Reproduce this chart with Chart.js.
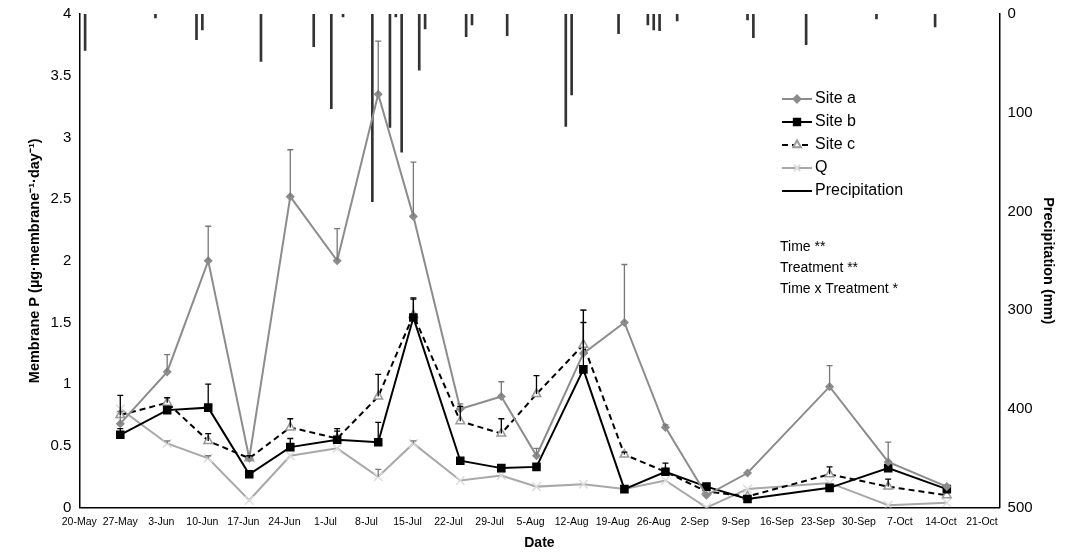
<!DOCTYPE html>
<html>
<head>
<meta charset="utf-8">
<script src="https://cdn.jsdelivr.net/npm/chart.js@4"></script>
<style>
  body { margin: 0; background: #fff; }
  #wrap { width: 1076px; height: 556px; }
</style>
</head>
<body>
<div id="wrap"><canvas id="chart"></canvas></div>
<script>
// days after 20-May
const sampleDays = [7, 15, 22, 29, 36, 44, 51, 57, 65, 72, 78, 86, 93, 100, 107, 114, 128, 138, 148];
const siteA = [0.68, 1.1, 2.0, 0.4, 2.52, 2.0, 3.35, 2.36, 0.8, 0.9, 0.42, 1.25, 1.5, 0.65, 0.1, 0.28, 0.98, 0.37, 0.17];
const siteAErr = [0.1, 0.14, 0.28, 0, 0.38, 0.26, 0.43, 0.44, 0.04, 0.12, 0.06, 0.35, 0.47, 0.02, 0, 0, 0.17, 0.16, 0];
const siteB = [0.59, 0.79, 0.81, 0.27, 0.49, 0.55, 0.53, 1.54, 0.38, 0.32, 0.33, 1.12, 0.15, 0.29, 0.17, 0.07, 0.16, 0.32, 0.15];
const siteBErr = [0.05, 0.03, 0.19, 0.02, 0.07, 0.07, 0.16, 0.15, 0, 0.02, 0, 0.38, 0, 0.07, 0, 0, 0, 0, 0];
const siteC = [0.75, 0.85, 0.54, 0.4, 0.65, 0.56, 0.9, 1.56, 0.7, 0.6, 0.92, 1.32, 0.43, 0.29, 0.13, 0.09, 0.27, 0.17, 0.1];
const siteCErr = [0.16, 0.04, 0.06, 0.02, 0.07, 0.08, 0.18, 0.14, 0.12, 0.12, 0.15, 0.28, 0.02, 0.02, 0, 0, 0.06, 0.06, 0];
const q = [0.8, 0.52, 0.4, 0.06, 0.42, 0.48, 0.25, 0.52, 0.22, 0.26, 0.17, 0.19, 0.15, 0.22, 0.0, 0.15, 0.2, 0.02, 0.04];
const qErr = [0, 0.02, 0.02, 0, 0, 0, 0.06, 0.02, 0, 0, 0, 0, 0, 0, 0, 0, 0, 0, 0];
const precipDays = [1, 13, 20, 21, 31, 40, 43, 45, 50, 53, 54, 55, 58, 59, 66, 67, 73, 83, 84, 92, 97, 98, 99, 102, 114, 115, 124, 136, 146];
const precipMm = [37, 4, 26, 16, 48, 33, 96, 3, 190, 115, 3, 140, 57, 15, 23, 11, 22, 114, 82, 20, 11, 16, 17, 7, 6, 24, 31, 5, 13];
const statsText = ['Time **', 'Treatment **', 'Time x Treatment *'];

const months = ['Jan','Feb','Mar','Apr','May','Jun','Jul','Aug','Sep','Oct','Nov','Dec'];
function dayLabel(d) {
  const dt = new Date(Date.UTC(2013, 4, 20 + d));
  return dt.getUTCDate() + '-' + months[dt.getUTCMonth()];
}
const pts = vals => vals.map((v, i) => ({ x: sampleDays[i], y: v }));
const FONT = 'Arial, "Liberation Sans", sans-serif';

const series = [
  { label: 'Site a', data: pts(siteA), err: siteAErr, borderColor: '#8c8c8c', backgroundColor: '#8c8c8c',
    pointStyle: 'rectRot', pointRadius: 3.5, borderWidth: 2 },
  { label: 'Site b', data: pts(siteB), err: siteBErr, borderColor: '#000', backgroundColor: '#000',
    pointStyle: 'rect', pointRadius: 5, borderWidth: 2 },
  { label: 'Site c', data: pts(siteC), err: siteCErr, borderColor: '#000', backgroundColor: '#fff',
    pointBorderColor: '#999', pointStyle: 'triangle', pointRadius: 5, borderWidth: 2, borderDash: [6, 4] },
  { label: 'Q', data: pts(q), err: qErr, borderColor: '#a8a8a8', backgroundColor: '#ccc',
    pointBorderColor: '#ddd', pointStyle: 'crossRot', pointRadius: 6, borderWidth: 2 }
];

const errorBars = {
  id: 'errorBars',
  afterDatasetsDraw(chart) {
    const { ctx, scales: { x, y } } = chart;
    ctx.save();
    series.forEach(s => {
      ctx.strokeStyle = s.borderColor === '#000' ? '#000' : '#777';
      ctx.lineWidth = 1.3;
      s.data.forEach((p, i) => {
        const e = s.err[i];
        if (!e) return;
        const px = x.getPixelForValue(p.x), y0 = y.getPixelForValue(p.y), y1 = y.getPixelForValue(p.y + e);
        ctx.beginPath();
        ctx.moveTo(px, y0); ctx.lineTo(px, y1);
        ctx.moveTo(px - 3, y1); ctx.lineTo(px + 3, y1);
        ctx.stroke();
      });
    });
    ctx.restore();
  }
};

const legendAndText = {
  id: 'legendAndText',
  afterDraw(chart) {
    const ctx = chart.ctx;
    ctx.save();
    ctx.font = '16px ' + FONT;
    ctx.textBaseline = 'middle';
    const rows = [...series, { label: 'Precipitation', borderColor: '#000', backgroundColor: '#000', pointStyle: false, borderWidth: 2 }];
    rows.forEach((s, i) => {
      const yy = 99 + i * 23;
      ctx.strokeStyle = s.borderColor;
      ctx.lineWidth = s.borderWidth;
      ctx.setLineDash(s.borderDash || []);
      ctx.beginPath(); ctx.moveTo(782, yy); ctx.lineTo(812, yy); ctx.stroke();
      ctx.setLineDash([]);
      if (s.pointStyle) {
        ctx.fillStyle = s.backgroundColor;
        ctx.strokeStyle = s.pointBorderColor || s.borderColor;
        Chart.helpers.drawPoint(ctx, { pointStyle: s.pointStyle, radius: Math.min(s.pointRadius, 4.5), rotation: 0, borderWidth: 1 }, 797, yy);
      }
      ctx.fillStyle = '#000';
      ctx.fillText(s.label, 815, yy);
    });
    ctx.font = '14px ' + FONT;
    statsText.forEach((t, i) => ctx.fillText(t, 780, 247 + i * 21));
    ctx.restore();
  }
};

new Chart(document.getElementById('chart'), {
  data: {
    datasets: [
      ...series.map(s => ({ type: 'line', yAxisID: 'y', tension: 0, pointBorderWidth: 1.5, order: 1, ...s })),
      { type: 'bar', label: 'Precipitation', yAxisID: 'y2', order: 2,
        data: precipDays.map((d, i) => ({ x: d, y: precipMm[i] })),
        backgroundColor: '#333', barThickness: 2 }
    ]
  },
  options: {
    responsive: true,
    maintainAspectRatio: false,
    animation: false,
    layout: { padding: { top: 14, right: 15, left: 22, bottom: 0 } },
    plugins: { legend: { display: false }, tooltip: { enabled: false } },
    scales: {
      x: {
        type: 'linear', min: 0, max: 157, offset: false,
        grid: { display: false, drawTicks: true, tickLength: 5, tickColor: '#000' },
        border: { color: '#000', width: 1.5 },
        afterBuildTicks: ax => { ax.ticks = []; for (let d = 0; d <= 154; d += 7) ax.ticks.push({ value: d }); },
        ticks: { callback: v => dayLabel(v), maxRotation: 0, autoSkip: false, color: '#000',
          font: { size: 10.5, family: FONT } },
        title: { display: true, text: 'Date', color: '#000', padding: { top: 4 },
          font: { size: 14, weight: 'bold', family: FONT } }
      },
      y: {
        position: 'left', min: 0, max: 4,
        grid: { display: false, tickLength: 5, tickColor: '#000' },
        border: { color: '#000', width: 1.5 },
        ticks: { stepSize: 0.5, color: '#000', callback: v => String(v), font: { size: 15, family: FONT } },
        title: { display: true, text: 'Membrane P (µg·membrane⁻¹·day⁻¹)', color: '#000',
          font: { size: 14.5, weight: 'bold', family: FONT } }
      },
      y2: {
        position: 'right', min: 0, max: 500, reverse: true,
        grid: { display: false, tickLength: 5, tickColor: '#000' },
        border: { color: '#000', width: 1.5 },
        ticks: { stepSize: 100, color: '#000', font: { size: 15, family: FONT } },
        title: { display: true, text: 'Precipitation (mm)', color: '#000',
          font: { size: 14.5, weight: 'bold', family: FONT } }
      }
    }
  },
  plugins: [errorBars, legendAndText]
});
</script>
</body>
</html>
